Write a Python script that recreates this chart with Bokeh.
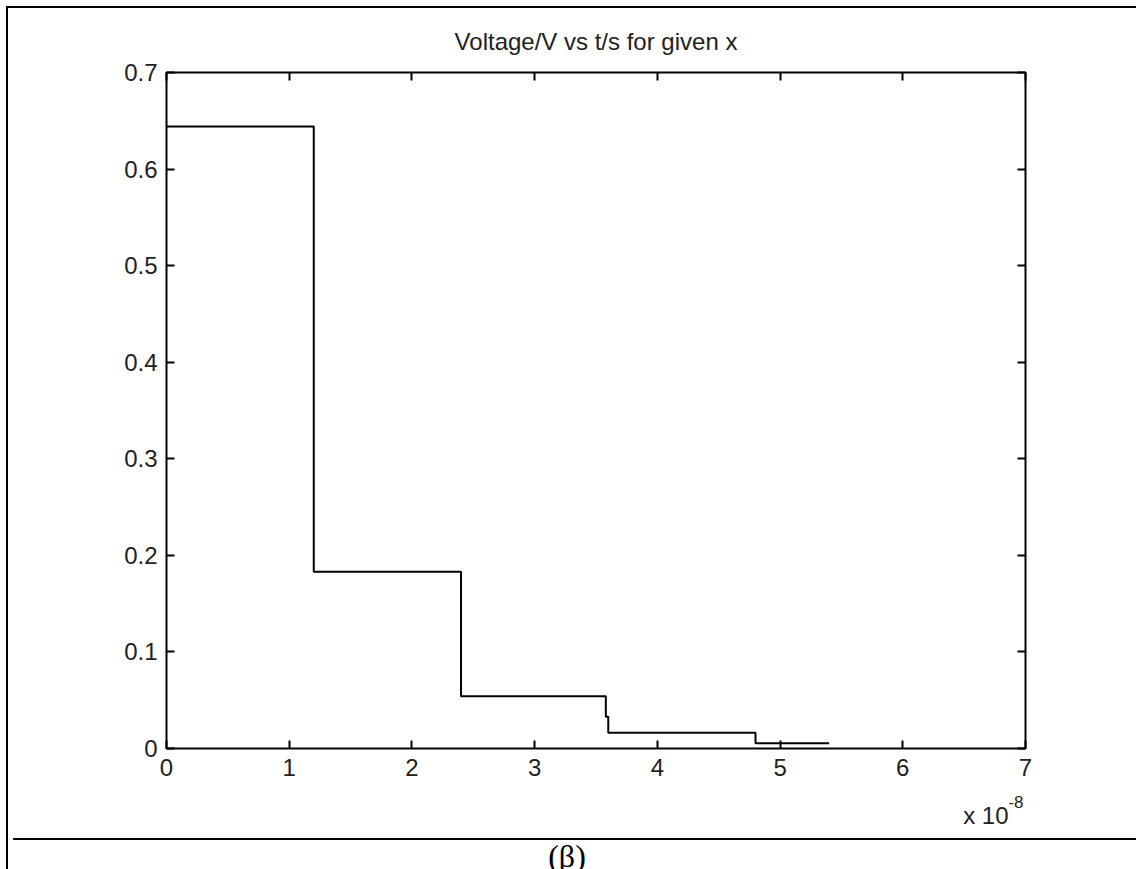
from bokeh.plotting import figure
from bokeh.models import Div, FixedTicker, Range1d, LinearAxis, Title
from bokeh.layouts import column
from bokeh.embed import file_html
from bokeh.resources import INLINE

# Data (time in units of 1e-8 s, voltage in V)
step_times = [0.0, 1.2, 2.4, 3.58, 3.6, 4.8, 5.4]
step_levels = [0.644, 0.183, 0.054, 0.033, 0.0162, 0.0055, 0.0055]

x_ticks = [0, 1, 2, 3, 4, 5, 6, 7]
x_tick_labels = ["0", "1", "2", "3", "4", "5", "6", "7"]
y_ticks = [0, 0.1, 0.2, 0.3, 0.4, 0.5, 0.6, 0.7]
y_tick_labels = ["0", "0.1", "0.2", "0.3", "0.4", "0.5", "0.6", "0.7"]

title_text = "Voltage/V vs t/s for given x"
multiplier_text = "x 10"
exponent_text = "-8"
caption_text = "(\u03b2)"

FONT = "Liberation Sans"
TXT = "#222222"

p = figure(width=1128, height=825, output_backend="svg", toolbar_location=None,
           x_range=Range1d(0, 7), y_range=Range1d(0, 0.7),
           min_border_left=158, min_border_right=111, min_border_top=63, min_border_bottom=85,
           x_axis_location=None, y_axis_location=None)
p.background_fill_color = "white"
p.border_fill_color = "white"
p.grid.visible = False
p.outline_line_color = "black"
p.outline_line_width = 2

def make_axis(ticks, labels, show_labels):
    ax = LinearAxis(ticker=FixedTicker(ticks=ticks),
                    major_label_overrides={t: l for t, l in zip(ticks, labels)})
    ax.axis_line_color = None
    ax.major_tick_in = 8
    ax.major_tick_out = 0
    ax.minor_tick_in = 0
    ax.minor_tick_out = 0
    ax.major_tick_line_width = 2
    ax.major_tick_line_color = "black"
    ax.major_label_text_font = FONT
    if show_labels:
        ax.major_label_text_font_size = "24px"
        ax.major_label_text_color = TXT
    else:
        ax.major_label_text_font_size = "0px"
        ax.major_label_text_color = None
        ax.major_label_standoff = 0
    return ax

bottom = make_axis(x_ticks, x_tick_labels, True)
bottom.major_label_standoff = 10
left = make_axis(y_ticks, y_tick_labels, True)
left.major_label_standoff = 9
top = make_axis(x_ticks, x_tick_labels, False)
right = make_axis(y_ticks, y_tick_labels, False)
p.add_layout(bottom, "below")
p.add_layout(left, "left")
p.add_layout(top, "above")
p.add_layout(right, "right")

p.step(x=step_times, y=step_levels, mode="after", line_color="black", line_width=2)

p.title.text = title_text
p.title.align = "center"
p.title.offset = -4
p.title.text_font = FONT
p.title.text_font_size = "24px"
p.title.text_font_style = "normal"
p.title.text_color = TXT
p.title.standoff = 35

exp_title = Title(text=exponent_text, align="right", offset=2, standoff=31,
                  text_font=FONT, text_font_size="17px", text_font_style="normal",
                  text_color=TXT)
mul_title = Title(text=multiplier_text, align="right", offset=17, standoff=-44,
                  vertical_align="top",
                  text_font=FONT, text_font_size="24px", text_font_style="normal",
                  text_color=TXT)
p.add_layout(exp_title, "below")
p.add_layout(mul_title, "below")

cap = Div(text=caption_text, width=1128, height=29,
          styles={"border-top": "2px solid black", "text-align": "center",
                  "font-family": "Liberation Serif", "font-size": "32px",
                  "line-height": "1.0", "color": "black", "padding-right": "20px",
                  "box-sizing": "border-box"})

layout = column(p, cap, spacing=0,
                styles={"border-left": "2px solid black", "border-top": "2px solid black",
                        "margin-left": "6px", "margin-top": "6px"})
open("out.html", "w").write(file_html(layout, INLINE))
